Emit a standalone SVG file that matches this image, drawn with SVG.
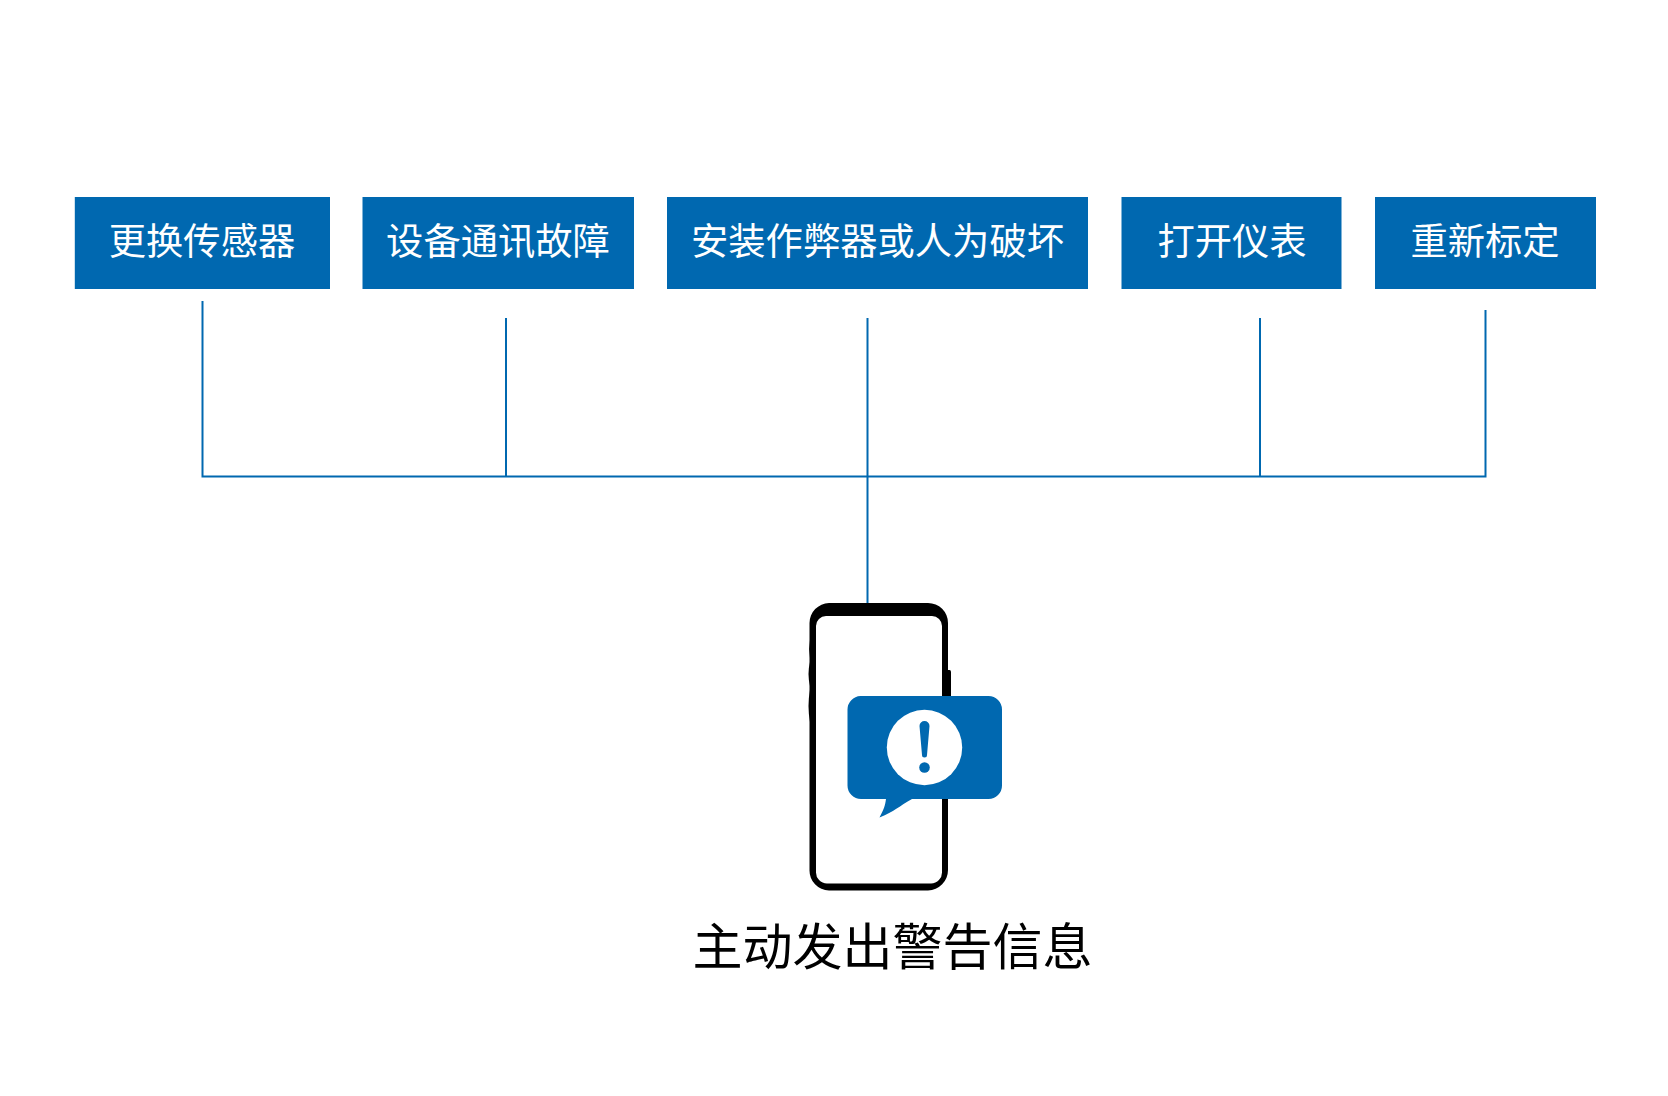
<svg xmlns="http://www.w3.org/2000/svg" width="1668" height="1096" viewBox="0 0 1668 1096">
<style>
.box{fill:#0068b0}
.lbl{font-family:"Noto Sans CJK SC","Noto Sans",sans-serif;font-size:37.3px;fill:#fff;text-anchor:middle}
.cap{font-family:"Noto Sans CJK SC","Noto Sans",sans-serif;font-size:50px;fill:#000;text-anchor:middle}
.wire{fill:none;stroke:#0068b0;stroke-width:2}
</style>
<rect width="1668" height="1096" fill="#fff"/>
<g id="connectors">
<path class="wire" d="M202.500 301V476.500H1485.500V310M506 318V476.500M867.500 318V604M1260 318V476.500"/>
</g>
<g id="node-1"><rect class="box" x="74.800" y="197" width="255.200" height="92"/><text class="lbl" x="202" y="254.500">更换传感器</text></g>
<g id="node-2"><rect class="box" x="362.500" y="197" width="271.500" height="92"/><text class="lbl" x="498" y="254.500">设备通讯故障</text></g>
<g id="node-3"><rect class="box" x="667" y="197" width="421" height="92"/><text class="lbl" x="877.500" y="254.500">安装作弊器或人为破坏</text></g>
<g id="node-4"><rect class="box" x="1121.500" y="197" width="220" height="92"/><text class="lbl" x="1232" y="254.500">打开仪表</text></g>
<g id="node-5"><rect class="box" x="1375" y="197" width="221" height="92"/><text class="lbl" x="1485" y="254.500">重新标定</text></g>
<g id="phone">
<path d="M810 640h3v18h-3q-1.700-9 0-18ZM810 662h3v24h-3q-3-12 0-24ZM810 690h3v32h-3q-3-16 0-32ZM945 670h4.500q1.500 0 1.500 2v30h-6Z"/>
<path fill-rule="evenodd" d="M829 603H928A20 20 0 0 1 948 623V870A20.500 20.500 0 0 1 928 890.500H829A20 20 0 0 1 809.500 870V623A20 20 0 0 1 829 603ZM826 616A10 10 0 0 0 816 626V872A11 11 0 0 0 827 883.500H931A11 11 0 0 0 942 872V626A10 10 0 0 0 932 616Z"/>
</g>
<g id="alert">
<path class="box" d="M860.500 696H988.500A13.500 13.500 0 0 1 1002 709.500V785.500A13.500 13.500 0 0 1 988.500 799H912C898 807 895 811 879.500 817.500C884 809 885 806 886 799H861A13.500 13.500 0 0 1 847.500 785.500V709.500A13.500 13.500 0 0 1 860.500 696Z"/>
<circle cx="924.500" cy="747.500" r="37.700" fill="#fff"/>
<path class="box" d="M919.500 726A5 5 0 0 1 929.500 726L927 755A2.500 2.500 0 0 1 922 755Z"/>
<circle class="box" cx="924.500" cy="767.500" r="5.300"/>
</g>
<g id="caption"><text class="cap" x="892.500" y="964.500">主动发出警告信息</text></g>
</svg>
